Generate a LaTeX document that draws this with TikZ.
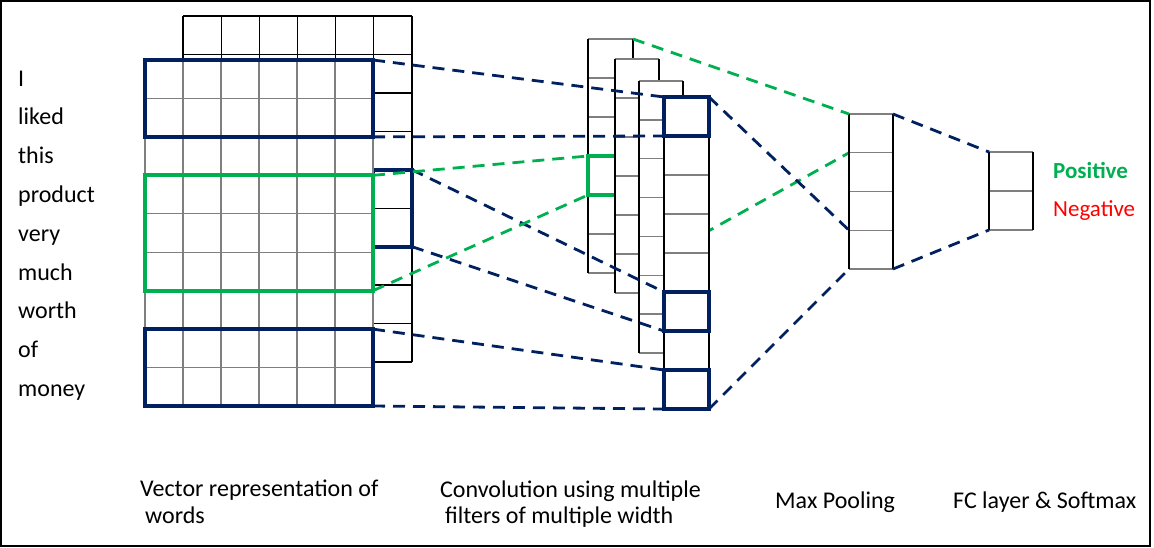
\documentclass[tikz,border=0pt]{standalone}
\usepackage{fontspec}
\setmainfont{Carlito}
\definecolor{nblue}{HTML}{002060}
\definecolor{ngreen}{HTML}{00B050}
\definecolor{nred}{HTML}{FF0000}
\definecolor{ngray}{HTML}{7F7F7F}
\newcommand\cnncol[5]{%
  \fill[white] (#1,#3) rectangle (#2,{#3+#4*#5});
  \foreach \k in {0,...,#4} \draw[cellline] (#1,{#3+\k*#5}) -- (#2,{#3+\k*#5});
  \draw[backline] (#1,#3) -- (#1,{#3+#4*#5}) (#2,#3) -- (#2,{#3+#4*#5});
}
\begin{document}
\begin{tikzpicture}[x=1pt,y=-1pt,
  cellline/.style={line width=1.4pt, ngray},
  backline/.style={line width=1.3pt, black},
  bluebox/.style={draw=nblue, line width=3.8pt},
  greenbox/.style={draw=ngreen, line width=3.8pt},
  bdash/.style={nblue, line width=2.8pt, dash pattern=on 12pt off 8pt},
  gdash/.style={ngreen, line width=2.8pt, dash pattern=on 12pt off 8pt},
  word/.style={anchor=base west, inner sep=0pt, font=\fontsize{24}{28}\selectfont},
  caption/.style={anchor=base west, inner sep=0pt, font=\fontsize{24}{28}\selectfont},
]
\useasboundingbox (0,0) rectangle (1154,547);
\draw[line width=1.5pt] (0.75,0.75) rectangle (1150,546);

% back word grid
\fill[white] (183,16) rectangle (412,362);
\foreach \i in {0,...,6} \draw[backline] ({183+\i*229/6},16) -- ({183+\i*229/6},362);
\foreach \j in {0,...,9} \draw[backline] (183,{16+\j*346/9}) -- (412,{16+\j*346/9});
\draw[bluebox] (373,{16+4*346/9}) rectangle (412,{16+6*346/9});
\coordinate (sbT) at (412,{16+4*346/9});
\coordinate (sbB) at (412,{16+6*346/9});

% front word grid
\fill[white] (145,60) rectangle (373,406);
\foreach \i in {0,...,6} \draw[cellline] ({145+\i*38},60) -- ({145+\i*38},406);
\foreach \j in {0,...,9} \draw[cellline] (145,{60+\j*346/9}) -- (373,{60+\j*346/9});
\draw[bluebox] (145,60) rectangle (373,{60+2*346/9});
\draw[greenbox] (145,{60+3*346/9}) rectangle (373,{60+6*346/9});
\draw[bluebox] (145,{60+7*346/9}) rectangle (373,406);
\coordinate (b1T) at (373,60);
\coordinate (b1B) at (373,{60+2*346/9});
\coordinate (gT) at (373,{60+3*346/9});
\coordinate (gB) at (373,{60+6*346/9});
\coordinate (b3T) at (373,{60+7*346/9});
\coordinate (b3B) at (373,406);

% max pool / fc anchor points
\coordinate (mp0) at (849,114);
\coordinate (mp1) at (849,{114+38.75});
\coordinate (mp3) at (849,{114+3*38.75});
\coordinate (mp4) at (849,269);
\coordinate (mpR0) at (893,114);
\coordinate (mpR4) at (893,269);
\coordinate (fc0) at (989,152);
\coordinate (fc2) at (989,230);

% hidden green line behind columns
\coordinate (c1B) at (633,273);
\draw[gdash] (c1B) -- (mp1);

% convolution columns
\cnncol{588}{633}{39}{6}{39}
\draw[greenbox] (588,156) rectangle (633,195);
\coordinate (cgT) at (588,156);
\coordinate (cgB) at (588,195);
\coordinate (c1T) at (633,39);
\cnncol{615}{659}{59}{6}{39}
\cnncol{639}{683}{81}{7}{38.86}
\cnncol{664}{709}{97}{8}{39}
\draw[bluebox] (664,97) rectangle (709,136);
\draw[bluebox] (664,292) rectangle (709,331);
\draw[bluebox] (664,370) rectangle (709,409);
\coordinate (k1T) at (664,97);
\coordinate (k1B) at (664,136);
\coordinate (k2T) at (664,292);
\coordinate (k2B) at (664,331);
\coordinate (k3T) at (664,370);
\coordinate (k3B) at (664,409);
\coordinate (k1R) at (709,97);
\coordinate (k3R) at (709,409);

% max pooling and fc
\cnncol{849}{893}{114}{4}{38.75}
\cnncol{989}{1033}{152}{2}{39}

% dashed connectors
\draw[bdash] (b1T) -- (k1T);
\draw[bdash] (b1B) -- (k1B);
\draw[bdash] (sbT) -- (k2T);
\draw[bdash] (sbB) -- (k2B);
\draw[bdash] (b3T) -- (k3T);
\draw[bdash] (b3B) -- (k3B);
\draw[gdash] (gT) -- (cgT);
\draw[gdash] (gB) -- (cgB);
\draw[gdash] (c1T) -- (mp0);
\draw[bdash] (k1R) -- (mp3);
\draw[bdash] (k3R) -- (mp4);
\draw[bdash] (mpR0) -- (fc0);
\draw[bdash] (mpR4) -- (fc2);

% words
\node[word] (w1) at (18,86) {I};
\node[word] (w2) at (18,124.8) {liked};
\node[word] (w3) at (18,163.6) {this};
\node[word] (w4) at (18,202.4) {product};
\node[word] (w5) at (18,241.2) {very};
\node[word] (w6) at (18,280) {much};
\node[word] (w7) at (18,318.8) {worth};
\node[word] (w8) at (18,357.6) {of};
\node[word] (w9) at (18,396.4) {money};

% captions
\node[caption] (cap1a) at (140,496) {Vector representation of};
\node[caption] (cap1b) at (145,523) {words};
\node[caption] (cap2a) at (440,497) {Convolution using multiple};
\node[caption] (cap2b) at (445,523) {filters of multiple width};
\node[caption] (cap3) at (775,508) {Max Pooling};
\node[caption] (cap4) at (953,508) {FC layer \& Softmax};
\node[word, font=\fontsize{23}{27}\selectfont\bfseries, text=ngreen] (pos) at (1053,178) {Positive};
\node[word, font=\fontsize{23}{27}\selectfont, text=nred] (neg) at (1053,216) {Negative};
\end{tikzpicture}
\end{document}
